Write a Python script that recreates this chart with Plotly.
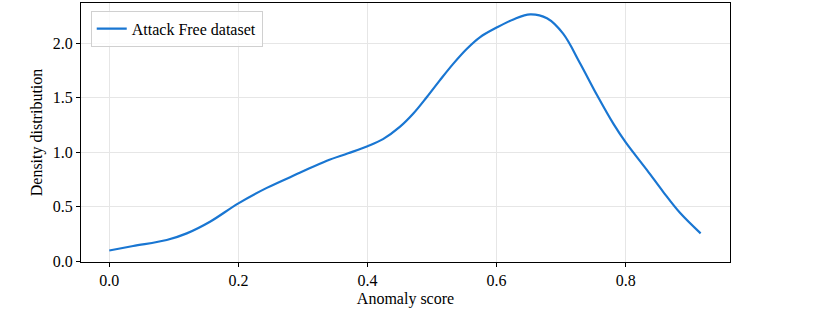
import plotly.graph_objects as go

score = [0.0, 0.037, 0.089, 0.12, 0.156, 0.2, 0.244, 0.295, 0.337, 0.37, 0.4, 0.424, 0.45, 0.471, 0.492,
         0.512, 0.533, 0.554, 0.574, 0.6, 0.626, 0.652, 0.678, 0.703, 0.729, 0.755, 0.781, 0.8, 0.833,
         0.858, 0.884, 0.916]
density = [0.097, 0.138, 0.193, 0.254, 0.361, 0.53, 0.672, 0.81, 0.922, 0.99, 1.055, 1.12, 1.232, 1.355, 1.507,
           1.66, 1.814, 1.951, 2.056, 2.145, 2.22, 2.266, 2.23, 2.089, 1.82, 1.53, 1.26, 1.09, 0.835,
           0.636, 0.443, 0.254]

x_ticks = [0.0, 0.2, 0.4, 0.6, 0.8]
y_ticks = [0.0, 0.5, 1.0, 1.5, 2.0]

FONT = "Liberation Serif"

fig = go.Figure()
fig.add_trace(go.Scatter(x=score, y=density, mode="lines", name="Attack Free dataset",
                         line=dict(color="#1976D2", width=2.2, shape="spline", smoothing=1.0)))

axis_common = dict(showgrid=True, gridcolor="#e6e6e6", gridwidth=1, showline=True, linecolor="black",
                   linewidth=1.2, mirror=True, ticks="outside", ticklen=4, tickwidth=1, tickcolor="black",
                   zeroline=False, automargin=False, tickfont=dict(family=FONT, size=16, color="black"))

fig.update_layout(
    width=813, height=316,
    margin=dict(l=81, r=83, t=3, b=54, autoexpand=False),
    plot_bgcolor="white", paper_bgcolor="white",
    font=dict(family=FONT, size=16, color="black"),
    showlegend=True,
    legend=dict(x=0.015, y=0.97, xanchor="left", yanchor="top", bgcolor="rgba(255,255,255,0.8)",
                bordercolor="#d0d0d0", borderwidth=1, font=dict(family=FONT, size=16)),
    xaxis=dict(range=[-0.0438, 0.9615], tickvals=x_ticks, ticktext=[f"{v:.1f}" for v in x_ticks],
               title=dict(text="Anomaly score", standoff=4, font=dict(family=FONT, size=16)), **axis_common),
    yaxis=dict(range=[-0.009, 2.371], tickvals=y_ticks, ticktext=[f"{v:.1f}" for v in y_ticks],
               title=dict(text="Density distribution", standoff=6, font=dict(family=FONT, size=16)), **axis_common),
)

fig.write_html("out.html", config={"displayModeBar": False},
               post_script="document.body.style.margin='0';document.body.style.overflow='hidden';")
